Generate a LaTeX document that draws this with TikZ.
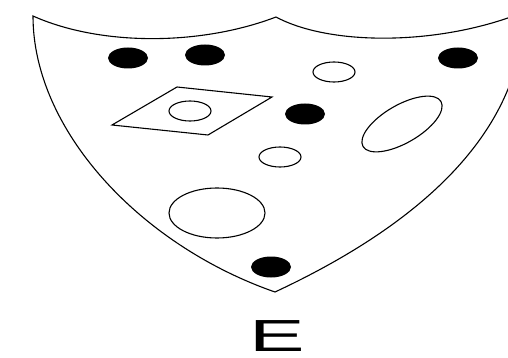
\documentclass[tikz,border=0pt]{standalone}
\usepackage{fontspec}
\setmainfont{Liberation Sans}
\usetikzlibrary{shapes.geometric}
\tikzset{
  outline/.style={line width=1.1pt,black},
  blob/.style={ellipse,fill=black,inner sep=0pt,minimum width=40pt,minimum height=21pt},
  ring/.style={ellipse,draw,line width=1.1pt,inner sep=0pt,minimum width=42pt,minimum height=20pt},
  letter/.style={font=\fontsize{45}{45}\selectfont,inner sep=0pt}
}

\begin{document}
\begin{tikzpicture}[x=1pt,y=-1pt]
\useasboundingbox (0,0) rectangle (508,358);
% shield outline
\draw[outline] (33,16) .. controls (100,46) and (200,46) .. (276,17)
  .. controls (330,46) and (440,46) .. (524,12)
  .. controls (522,120) and (440,215) .. (275,292)
  .. controls (140,245) and (33,130) .. (33,16) -- cycle;
% parallelogram
\draw[outline] (112,125) -- (177,87) -- (272,97) -- (208,135) -- cycle;
% filled dots
\node[blob] (dotA) at (128,58) {};
\node[blob] (dotB) at (205,55) {};
\node[blob] (dotC) at (458,58) {};
\node[blob] (dotD) at (305,114) {};
\node[blob] (dotE) at (271,267) {};
% open rings
\node[ring] (ringA) at (334,72) {};
\node[ring] (ringB) at (280,157) {};
\node[ring] (ringC) at (190,111) {};
\node[ring,minimum width=96pt,minimum height=50pt] (bigring) at (217,213) {};
\node[ring,minimum width=90pt,minimum height=38pt,rotate=30] (tiltring) at (402,124) {};
\node[letter,xscale=1.85] (label) at (277,336) {E};
\end{tikzpicture}
\end{document}
